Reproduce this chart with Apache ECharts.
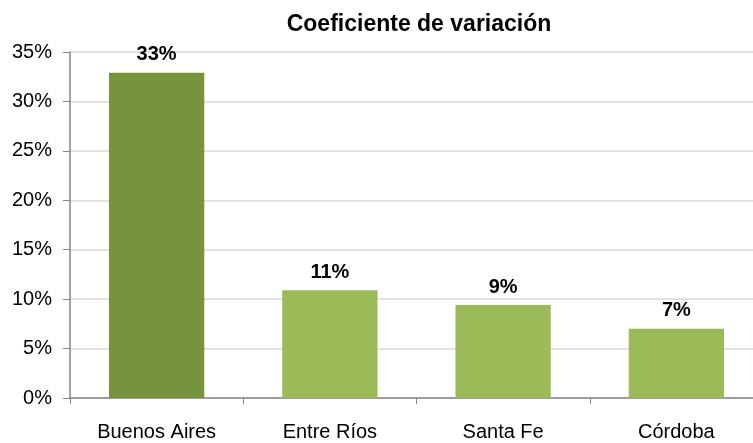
<!DOCTYPE html>
<html>
<head>
<meta charset="utf-8">
<script src="https://cdn.jsdelivr.net/npm/echarts@6/dist/echarts.min.js"></script>
<style>
  html, body { margin: 0; padding: 0; background: #fff; }
  #chart { width: 753px; height: 443px; }
</style>
</head>
<body>
<div id="chart"></div>
<script>
// datos
const provincias = ["Buenos Aires", "Entre Ríos", "Santa Fe", "Córdoba"];
const coefVariacion = [32.9, 10.9, 9.4, 7.0];
const barColors = ["#77933C", "#9BBB59", "#9BBB59", "#9BBB59"];
const yTicks = [0, 5, 10, 15, 20, 25, 30, 35];

const myChart = echarts.init(document.getElementById("chart"));

const option = {
  animation: false,
  title: {
    text: "Coeficiente de variación",
    left: 414,
    top: 8,
    textAlign: "center",
    textStyle: {
      fontFamily: "Liberation Sans, Arial, sans-serif",
      fontSize: 23,
      fontWeight: "bold",
      color: "#000",
    },
  },
  grid: {
    left: 70,
    top: 52,
    bottom: 45,
    width: 693, // el área de trazado se sale un poco por la derecha
    outerBoundsMode: "none",
    containLabel: false,
  },
  xAxis: {
    type: "category",
    data: provincias,
    axisLine: { lineStyle: { color: "#868686", width: 1.5 } },
    axisTick: { show: true, length: 6, lineStyle: { color: "#868686" } },
    axisLabel: {
      margin: 24,
      fontFamily: "Liberation Sans, Arial, sans-serif",
      fontSize: 20,
      color: "#000",
    },
  },
  yAxis: {
    type: "value",
    min: yTicks[0],
    max: yTicks[yTicks.length - 1],
    interval: 5,
    axisLine: { show: true, lineStyle: { color: "#868686", width: 1.5 } },
    axisTick: { show: true, length: 7, lineStyle: { color: "#868686" } },
    splitLine: { lineStyle: { color: "#D9D9D9", width: 1.5 } },
    axisLabel: {
      margin: 18,
      formatter: "{value}%",
      fontFamily: "Liberation Sans, Arial, sans-serif",
      fontSize: 20,
      color: "#000",
    },
  },
  series: [
    {
      type: "bar",
      data: coefVariacion.map((v, i) => ({ value: v, itemStyle: { color: barColors[i] } })),
      barWidth: "55%",
      label: {
        show: true,
        position: "top",
        distance: 8,
        formatter: (p) => Math.round(p.value) + "%",
        fontFamily: "Liberation Sans, Arial, sans-serif",
        fontSize: 20,
        fontWeight: "bold",
        color: "#000",
      },
    },
  ],
};

myChart.setOption(option, true);
window.addEventListener("resize", () => {
  myChart.resize();
});
</script>
</body>
</html>
